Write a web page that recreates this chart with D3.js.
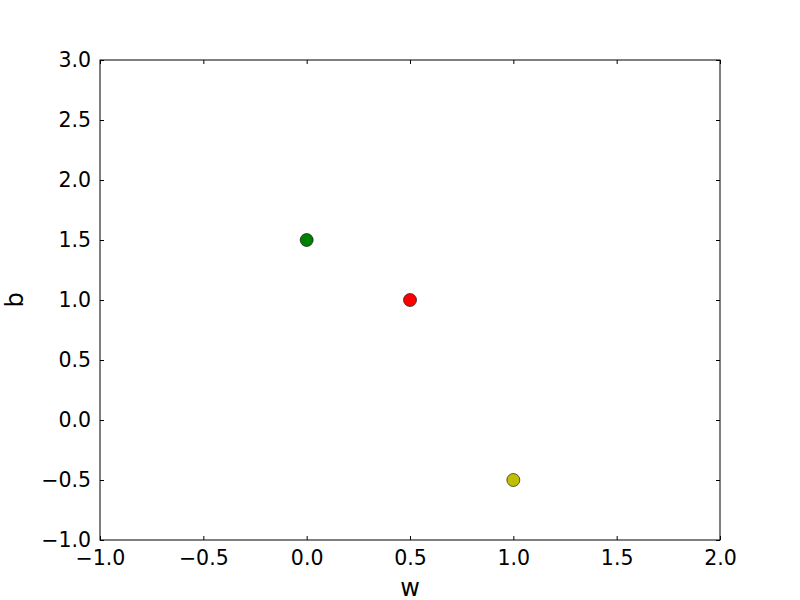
<!DOCTYPE html>
<html>
<head>
<meta charset="utf-8">
<script src="https://cdn.jsdelivr.net/npm/d3@7"></script>
<style>
  body { margin: 0; background: #fff; }
  svg { font-family: "DejaVu Sans", sans-serif; }
</style>
</head>
<body>
<svg width="800" height="600"></svg>
<script>
// data
let ws = [0, 0.5, 1];
let bs = [1.5, 1, -0.5];
let colores = ["#008000", "#ff0000", "#bfbf00"];
let xticks = [-1.0, -0.5, 0.0, 0.5, 1.0, 1.5, 2.0];
let yticks = [-1.0, -0.5, 0.0, 0.5, 1.0, 1.5, 2.0, 2.5, 3.0];

let $svg = d3.select("svg");
let m_left = 100, m_right = 720, m_top = 60, m_bottom = 540;

let x = d3.scaleLinear().domain([-1, 2]).range([m_left, m_right]);
let y = d3.scaleLinear().domain([-1, 3]).range([m_bottom, m_top]);

let fmt = d => d3.format(".1f")(d).replace("-", "\u2212");

// ticks pointing inwards on all four sides
let eixos = [
  d3.axisBottom(x).tickValues(xticks).tickSizeInner(-4).tickSizeOuter(0).tickPadding(10).tickFormat(fmt),
  d3.axisTop(x).tickValues(xticks).tickSizeInner(-4).tickSizeOuter(0).tickFormat(""),
  d3.axisLeft(y).tickValues(yticks).tickSizeInner(-4).tickSizeOuter(0).tickPadding(9).tickFormat(fmt),
  d3.axisRight(y).tickValues(yticks).tickSizeInner(-4).tickSizeOuter(0).tickFormat("")
];
let pos = [[0, m_bottom], [0, m_top], [m_left, 0], [m_right, 0]];

eixos.forEach(function(ax, i) {
  let g = $svg.append("g")
    .attr("transform", "translate(" + pos[i][0] + "," + pos[i][1] + ")")
    .call(ax);
  g.select(".domain").remove();
  g.selectAll("line").attr("stroke", "#000");
  g.selectAll("text").attr("font-size", 20.5).attr("fill", "#000")
    .attr("font-family", "DejaVu Sans");
});

$svg.append("rect")
  .attr("x", m_left).attr("y", m_top)
  .attr("width", m_right - m_left).attr("height", m_bottom - m_top)
  .attr("fill", "none").attr("stroke", "#000").attr("stroke-width", 1);

let dados = ws.map((w, i) => ({w: w, b: bs[i], cor: colores[i]}));

$svg.selectAll("circle.pontos").data(dados)
  .enter().append("circle")
  .classed("pontos", true)
  .attr("cx", d => x(d.w))
  .attr("cy", d => y(d.b))
  .attr("r", 6.5)
  .attr("fill", d => d.cor)
  .attr("stroke", "#000")
  .attr("stroke-width", 0.6);

$svg.append("text")
  .attr("x", (m_left + m_right) / 2).attr("y", 596)
  .attr("text-anchor", "middle")
  .attr("font-size", 24)
  .text("w");

$svg.append("text")
  .attr("transform", "translate(23," + (m_top + m_bottom) / 2 + ") rotate(-90)")
  .attr("text-anchor", "middle")
  .attr("font-size", 24)
  .text("b");
</script>
</body>
</html>
